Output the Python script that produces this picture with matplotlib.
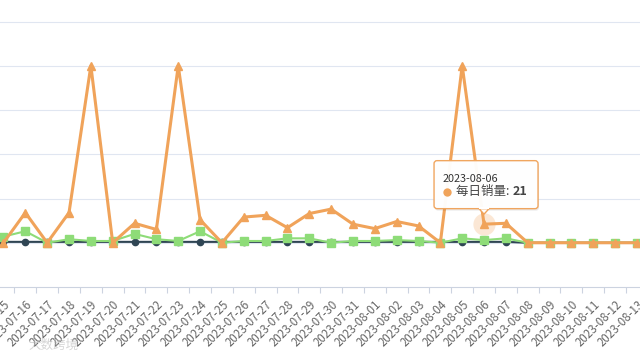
import matplotlib
matplotlib.use('Agg')
import matplotlib.pyplot as plt
import matplotlib.patches as mpatches
from matplotlib.transforms import Affine2D
import pandas as pd

plt.rcParams['font.family'] = ['Noto Sans CJK SC', 'DejaVu Sans']

dates = list(pd.date_range('2023-07-15', '2023-08-13').strftime('%Y-%m-%d'))

daily_sales = [0, 34, 0, 34, 200, 0, 22, 15, 200, 26, 0, 29, 31, 17, 33, 38,
               21, 16, 24, 19, 0, 200, 21, 22, 0, 0, 0, 0, 0, 0]
green_vals = [7, 13, 0, 4, 2, 2, 10, 4, 2, 13, 0, 2, 2, 5, 5, 0,
              2, 2, 3, 2, 0, 5, 3, 5, 0, 0, 0, 0, 0, 0]
navy_vals = [1, 1, 1, 1, 1, 1, 1, 1, 1, 1, 1, 1, 1, 1, 1, 1,
             1, 1, 1, 1, 1, 1, 1, 1, 0, 0, 0, 0, 0, 0]

tip_idx = 22
tip_name = '每日销量'

orange = '#f0a35a'
green = '#8edc78'
navy = '#2f4554'

fig = plt.figure(figsize=(6.4, 3.6), dpi=100)
ax = fig.add_axes([0, 73 / 360, 1, 287 / 360])

x = list(range(len(dates)))
ax.plot(x, navy_vals, color=navy, lw=1.5, marker='o', ms=4.5, zorder=3)
ax.plot(x, green_vals, color=green, lw=1.5, marker='s', ms=5.5, zorder=4)
ax.plot(x, daily_sales, color=orange, lw=2.2, marker='^', ms=6, zorder=5)

# highlighted point
ax.plot(tip_idx, daily_sales[tip_idx], 'o', ms=16, color=orange, alpha=0.25,
        mec='none', zorder=6)

ax.set_yticks([0, 50, 100, 150, 200, 250])
ax.yaxis.grid(True, color='#e0e6f1', lw=0.8)
ax.set_axisbelow(True)
ax.tick_params(axis='y', left=False, labelleft=False)

ax.set_xticks(x)
ax.set_xticklabels(dates, rotation=45, ha='right', va='top',
                   rotation_mode='anchor', fontsize=8.3, color='#666666')
ax.set_xticks([i + 0.5 for i in x[:-1]], minor=True)
ax.tick_params(axis='x', which='major', length=0, pad=8)
ax.tick_params(axis='x', which='minor', length=4, color='#ccd3e0', width=0.8)

ax.set_xlim(-0.16, len(dates) - 1 + 0.14)
ax.set_ylim(-50, 274.3)

for s in ['top', 'left', 'right']:
    ax.spines[s].set_visible(False)
ax.spines['bottom'].set_color('#ccd3e0')
ax.spines['bottom'].set_linewidth(0.8)

# tooltip
px, py = ax.transData.transform((tip_idx, daily_sales[tip_idx]))
t = Affine2D().translate(px, py)

shadow = mpatches.FancyBboxPatch((-49, 13.5), 104, 48, boxstyle='round,pad=0,rounding_size=3',
                                 fc='#000000', ec='none', alpha=0.08,
                                 transform=t, zorder=9)
fig.patches.append(shadow)
box = mpatches.FancyBboxPatch((-50, 15.5), 104, 48, boxstyle='round,pad=0,rounding_size=3',
                              fc='white', ec=orange, lw=1, alpha=0.97,
                              transform=t, zorder=10)
fig.patches.append(box)
ptr = mpatches.Polygon([(-5, 15.5), (5, 15.5), (0, 10)], closed=True,
                       fc='white', ec=orange, lw=1, transform=t, zorder=11)
fig.patches.append(ptr)
fig.lines.append(plt.Line2D([-4.2, 4.2], [16.1, 16.1], color='white', lw=1.5,
                            transform=t, zorder=12))

fig.text(-41, 45.5, dates[tip_idx], transform=t, fontsize=7.8, color='#333333',
         va='center', ha='left', zorder=13)
fig.lines.append(plt.Line2D([-37], [32.5], marker='o', ms=6, color=orange,
                            mec='none', transform=t, zorder=13))
fig.text(-28, 32.5, tip_name + ': ', transform=t, fontsize=9, color='#444444',
         va='center', ha='left', zorder=13)
fig.text(29, 32.5, str(daily_sales[tip_idx]), transform=t, fontsize=9,
         fontweight='bold', color='#444444', va='center', ha='left', zorder=13)

# watermark
fig.text(0.045, 0.03, '大数跨境', fontsize=9, color='#bbbbbb', alpha=0.6)

fig.savefig('out.png', dpi=100)
